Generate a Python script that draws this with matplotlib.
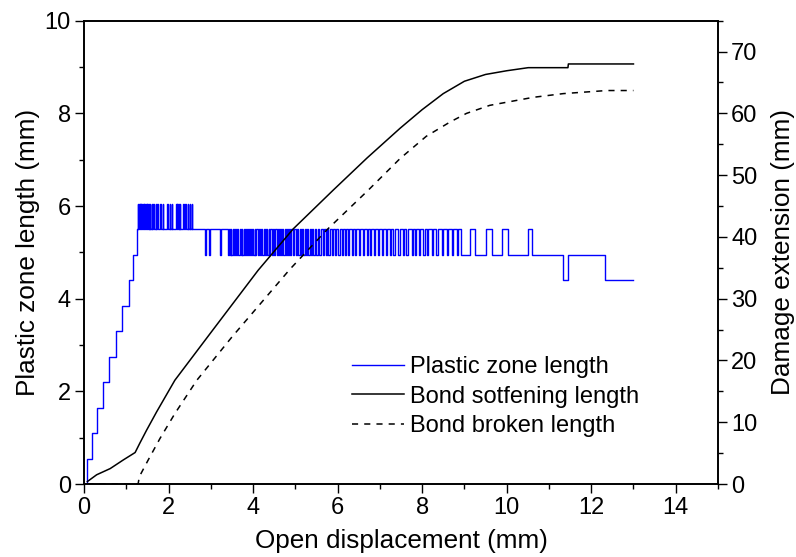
import matplotlib
matplotlib.use("Agg")
import matplotlib.pyplot as plt
from matplotlib.ticker import MultipleLocator

plt.rcParams['font.family'] = ['Liberation Sans', 'DejaVu Sans']
plt.rcParams['font.size'] = 17

# plastic zone length (mm): staircase at the start
ramp_x = [0.08, 0.19, 0.30, 0.44, 0.60, 0.75, 0.90, 1.06, 1.15, 1.25]
ramp_y = [0.55, 1.10, 1.65, 2.20, 2.75, 3.30, 3.85, 4.40, 4.95, 5.50]
# short jumps 5.5 -> 6.05
peak_starts = [1.27, 1.29, 1.31, 1.33, 1.35, 1.37, 1.40, 1.42, 1.44, 1.47, 1.50,
               1.53, 1.56, 1.60, 1.64, 1.70, 1.73, 1.80, 1.86, 1.97, 2.03, 2.08,
               2.18, 2.21, 2.24, 2.27, 2.35, 2.39, 2.45, 2.50, 2.55]
# short drops 5.5 -> 4.95
dip_starts = [2.86, 2.96, 3.22, 3.40, 3.45, 3.49, 3.55, 3.60, 3.65, 3.71, 3.75,
              3.81, 3.85, 3.90, 3.95, 4.01, 4.05, 4.11, 4.16, 4.22, 4.28, 4.34, 4.38,
              4.44, 4.50, 4.56, 4.61, 4.66, 4.72, 4.78, 4.83, 4.87, 4.95, 5.01,
              5.07, 5.13, 5.19, 5.25, 5.31, 5.36, 5.43, 5.50, 5.57, 5.65, 5.72,
              5.78, 5.86, 5.94, 6.02, 6.10, 6.17, 6.25, 6.33, 6.41, 6.51, 6.59,
              6.69, 6.77, 6.86, 6.96, 7.04, 7.14, 7.24, 7.32, 7.44, 7.54, 7.63,
              7.75, 7.83, 7.93, 8.03, 8.11, 8.23, 8.34, 8.46, 8.58, 8.70, 8.82]
# last part of the plastic zone curve
tail_x = [8.93, 9.13, 9.25, 9.51, 9.65, 9.90, 10.04, 10.51, 10.59, 11.34, 11.46, 12.33, 13.0]
tail_y = [4.95, 5.50, 4.95, 5.50, 4.95, 5.50, 4.95, 5.50, 4.95, 4.40, 4.95, 4.40, 4.40]

# damage extension (mm)
soft_x = [0.08, 0.30, 0.62, 0.93, 1.21, 1.32, 1.48, 1.72, 2.15, 3.0, 4.12, 4.95,
          5.9, 6.7, 7.48, 8.0, 8.5, 9.0, 9.5, 10.0, 10.51, 11.45, 11.46, 13.0]
soft_y = [0.4, 1.5, 2.5, 3.9, 5.1, 6.6, 8.7, 11.7, 16.8, 24.5, 34.6, 41.3,
          47.6, 52.8, 57.6, 60.6, 63.2, 65.2, 66.3, 66.9, 67.4, 67.4, 68.0, 68.0]
broken_x = [0.08, 1.28, 1.31, 1.52, 1.80, 2.15, 2.67, 3.5, 4.87, 5.74, 6.73,
            7.48, 8.1, 8.66, 9.05, 9.6, 10.63, 11.34, 12.37, 13.0]
broken_y = [0.0, 0.0, 1.2, 3.9, 7.4, 11.4, 16.8, 23.8, 34.75, 41.1, 47.6,
            52.7, 56.3, 58.6, 60.0, 61.3, 62.6, 63.2, 63.7, 63.7]

# build the step series
px = [0.0] + ramp_x
py = [0.0] + ramp_y
for s in peak_starts:
    px += [s, s + 0.012]
    py += [6.05, 5.50]
for s in dip_starts:
    px += [s, s + 0.03]
    py += [4.95, 5.50]
px += tail_x
py += tail_y

fig = plt.figure(figsize=(7.96, 5.57), dpi=100)
ax = fig.add_axes([0.1055, 0.131, 0.7965, 0.8318])
ax2 = ax.twinx()

l1, = ax.step(px, py, where='post', color='#0000ff', lw=1.0, label='Plastic zone length')
l2, = ax2.plot(soft_x, soft_y, color='black', lw=1.1, label='Bond sotfening length')
l3, = ax2.plot(broken_x, broken_y, color='black', lw=1.1, ls=(0, (4, 4)),
               label='Bond broken length')

ax.set_xlim(0, 15)
ax.set_ylim(0, 10)
ax2.set_ylim(0, 75)
ax.xaxis.set_major_locator(MultipleLocator(2))
ax.xaxis.set_minor_locator(MultipleLocator(1))
ax.yaxis.set_major_locator(MultipleLocator(2))
ax.yaxis.set_minor_locator(MultipleLocator(1))
ax2.yaxis.set_minor_locator(MultipleLocator(5))
ax2.set_yticks([0, 10, 20, 30, 40, 50, 60, 70])

for a in (ax, ax2):
    a.tick_params(which='major', length=6.5, width=1.0, direction='out', pad=3)
    a.tick_params(which='minor', length=3.6, width=1.0, direction='out')
    for sp in a.spines.values():
        sp.set_linewidth(1.2)

ax.set_xlabel('Open displacement (mm)', fontsize=18.8, labelpad=7)
ax.set_ylabel('Plastic zone length (mm)', fontsize=18.8, labelpad=3)
ax2.set_ylabel('Damage extension (mm)', fontsize=18.8, labelpad=10)

fig.legend(handles=[l1, l2, l3], loc='upper left', bbox_to_anchor=(0.442, 0.3605),
           frameon=False, borderpad=0, borderaxespad=0, handlelength=2.2,
           handletextpad=0.28, labelspacing=0.31)

fig.savefig('out.png', dpi=100)
